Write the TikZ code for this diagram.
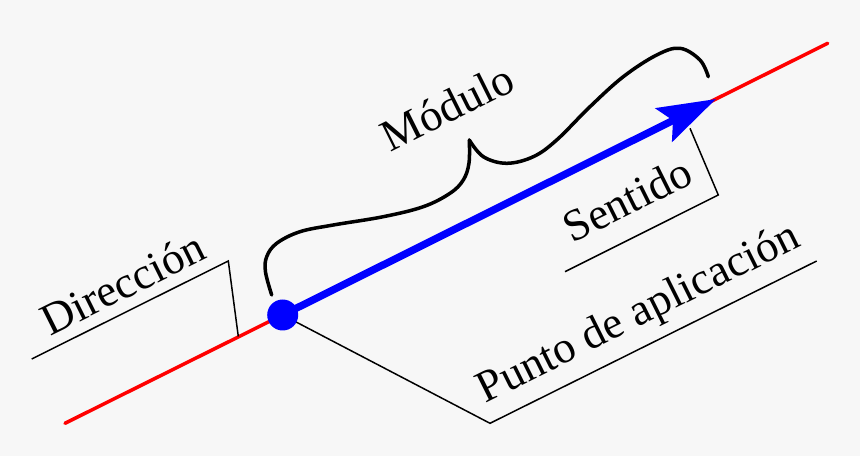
\documentclass[tikz,border=0pt]{standalone}
\usepackage{fontspec}
\setmainfont{Liberation Serif}
\usetikzlibrary{arrows.meta}
\definecolor{bgcol}{HTML}{F7F7F7}
\tikzset{
  label/.style={rotate=26.5,anchor=base,inner sep=0pt,font=\fontsize{25.5}{30}\selectfont},
  leader/.style={line width=0.85pt},
}
\begin{document}
\begin{tikzpicture}
  \fill[bgcol] (0,0) rectangle (17.2,9.12);
  \useasboundingbox (0,0) rectangle (17.2,9.12);
  % line of action
  \coordinate (r0) at (1.3,0.654);
  \coordinate (r1) at (16.554,8.254);
  \coordinate (pa) at (5.654,2.82);
  \coordinate (tip) at (14.32,7.14);
  \draw[red,line width=2pt,line cap=round] (r0) -- (r1);
  % labels
  \node[label] (dir) at (2.59,3.176) {Dirección};
  \node[label] (mod) at (9.08,6.7) {Módulo};
  \node[label] (sen) at (12.68,4.86) {Sentido};
  \node[label] (pun) at (12.882,2.632) {Punto de aplicación};
  \coordinate (d0) at (0.634,1.94);
  \coordinate (d1) at (4.566,3.9);
  \coordinate (d2) at (4.766,2.39);
  \draw[leader] (d0) -- (d1) -- (d2);
  \coordinate (s0) at (11.3,3.686);
  \coordinate (s1) at (14.366,5.22);
  \coordinate (s2) at (13.8,6.554);
  \draw[leader] (s0) -- (s1) -- (s2);
  \coordinate (p1) at (9.8,0.654);
  \coordinate (p2) at (16.334,3.9);
  \draw[leader] (pa) -- (p1) -- (p2);
  % brace
  \draw[line width=2pt,line cap=round] plot[smooth,tension=0.6] coordinates {(5.434,3.22) (5.31,3.68) (5.334,3.986) (5.534,4.254) (6.0,4.486) (6.666,4.62) (7.666,4.786) (8.466,4.986) (9.0,5.254) (9.266,5.52) (9.38,5.86) (9.386,6.32)};
  \draw[line width=2pt,line cap=round] plot[smooth,tension=0.6] coordinates {(9.386,6.32) (9.666,5.986) (10.134,5.854) (10.666,5.986) (11.134,6.32) (11.8,6.986) (12.466,7.586) (13.134,8.02) (13.6,8.154) (14.0,7.92) (14.166,7.586)};
  % vector
  \draw[blue,line width=4.2pt,-{Stealth[length=1.16cm,width=0.74cm,inset=0.2cm]}] (pa) -- (tip);
  \node[circle,fill=blue,inner sep=0pt,minimum size=0.62cm] (P) at (pa) {};
\end{tikzpicture}
\end{document}
